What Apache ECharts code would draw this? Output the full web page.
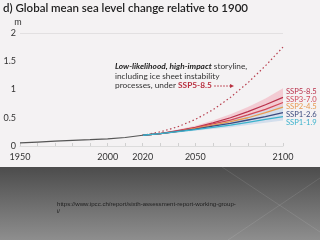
<!DOCTYPE html>
<html><head><meta charset="utf-8">
<script src="https://cdn.jsdelivr.net/npm/echarts@6/dist/echarts.min.js"></script>
<style>html,body{margin:0;padding:0;background:#5a5a5a}#c{width:320px;height:240px}</style>
</head><body><div id="c"></div>
<script>
const histYears = [1950,1960,1970,1980,1990,2000,2010,2020];
const histVals  = [0.055,0.07,0.085,0.10,0.112,0.125,0.15,0.19];
const projYears = [2020,2030,2040,2050,2060,2070,2080,2090,2100];
const ssp585 = [0.19,0.22,0.27,0.33,0.41,0.50,0.61,0.73,0.86];
const ssp370 = [0.19,0.22,0.265,0.32,0.39,0.46,0.55,0.65,0.77];
const ssp245 = [0.19,0.22,0.26,0.31,0.37,0.43,0.50,0.59,0.69];
const ssp126 = [0.19,0.22,0.26,0.30,0.35,0.40,0.46,0.52,0.59];
const ssp119 = [0.19,0.22,0.255,0.29,0.33,0.37,0.42,0.47,0.52];
const band585Lo = [0.19,0.21,0.25,0.30,0.36,0.43,0.51,0.60,0.70];
const band585Hi = [0.19,0.23,0.29,0.36,0.45,0.56,0.69,0.84,1.02];
const band126Lo = [0.19,0.21,0.24,0.27,0.30,0.33,0.37,0.41,0.45];
const band126Hi = [0.19,0.23,0.28,0.33,0.39,0.46,0.54,0.63,0.72];
const storyline = [0.19,0.25,0.34,0.47,0.64,0.86,1.12,1.42,1.75];
const xTickLabels = [1950,2000,2020,2050,2100];

const pairs = (xs, ys) => xs.map((x,i)=>[x,ys[i]]);

const chart = echarts.init(document.getElementById('c'), null, {renderer:'canvas'});
const lineS = (name, data, color, dy) => ({
  name, type:'line', data: pairs(projYears, data), symbol:'none', z:5,
  lineStyle:{color, width:1.3},
  endLabel:{show:true, formatter:name, color, fontFamily:'Lato', fontSize:7.6, offset:[0,dy], distance:3}
});
const band = (lo, hi, color) => ({
  type:'custom', z:2, silent:true,
  data: projYears.map((y,i)=>[y, lo[i], hi[i]]),
  renderItem: (params, api) => {
    if (params.dataIndex !== 0) return;
    const top = projYears.map((y,i)=>api.coord([y, hi[i]]));
    const bot = projYears.map((y,i)=>api.coord([y, lo[i]])).reverse();
    return {type:'polygon', shape:{points: top.concat(bot)}, style:{fill:color}};
  }
});

chart.setOption({
  animation:false,
  grid:{left:20, right:37, top:33, bottom:94, containLabel:false},
  graphic:[
    {type:'rect', z:-10, shape:{x:0,y:0,width:320,height:167}, style:{fill:'#f4f2f3'}},
    {type:'rect', z:-10, shape:{x:0,y:167,width:320,height:73}, style:{fill:new echarts.graphic.LinearGradient(0,0,0,1,[{offset:0,color:'#4c4c4c'},{offset:1,color:'#8e8e8e'}])}},
    {type:'line', z:-9, shape:{x1:222,y1:167,x2:320,y2:232}, style:{stroke:'rgba(255,255,255,0.10)', lineWidth:1}},
    {type:'line', z:-9, shape:{x1:320,y1:178,x2:228,y2:240}, style:{stroke:'rgba(255,255,255,0.10)', lineWidth:1}},
    {type:'text', left:3, top:2, style:{text:'d) Global mean sea level change relative to 1900', font:'600 11.5px Lato', fill:'#222'}},
    {type:'text', left:115, top:62, style:{
      text:'{bi|Low-likelihood, high-impact}{n| storyline,}\n{n|including ice sheet instability}\n{n|processes, under }{r|SSP5-8.5}',
      lineHeight:9.5,
      rich:{
        bi:{font:'italic bold 8.3px Lato', fill:'#222', lineHeight:9.5},
        n:{font:'8.3px Lato', fill:'#333', lineHeight:9.5},
        r:{font:'bold 8.3px Lato', fill:'#b8303f', lineHeight:9.5}
      }}},
    {type:'line', shape:{x1:214,y1:86,x2:230,y2:86}, style:{stroke:'#b8303f', lineWidth:0.8, lineDash:[2,1]}},
    {type:'polygon', shape:{points:[[230,84],[234,86],[230,88]]}, style:{fill:'#b8303f'}},
    {type:'text', left:57, top:201, style:{text:'https://www.ipcc.ch/report/sixth-assessment-report-working-group-\ni/', font:'6.1px "Liberation Sans"', fill:'#1e1e1e', lineHeight:7}}
  ],
  xAxis:{type:'value', min:1950, max:2100, interval:10,
    axisLine:{show:true, lineStyle:{color:'#dcdcdc', width:1}},
    axisTick:{show:true, length:3, inside:true, lineStyle:{color:'#d0d0d0'}},
    axisLabel:{customValues:xTickLabels, formatter:v=>String(v), fontFamily:'Lato', fontSize:9, color:'#333', margin:7},
    splitLine:{show:false}},
  yAxis:{type:'value', min:0, max:2, interval:0.5, name:'m', nameLocation:'end', nameGap:6,
    nameTextStyle:{fontFamily:'Lato', fontSize:9, color:'#333', align:'center', padding:[0,4,0,0]},
    axisLine:{show:false}, axisTick:{show:false},
    axisLabel:{fontFamily:'Lato', fontSize:9, color:'#333', margin:4},
    splitLine:{show:false}},
  series:[
    band(band585Lo, band585Hi, 'rgba(242,196,205,0.85)'),
    band(band126Lo, band126Hi, 'rgba(205,218,234,0.85)'),
    {type:'line', data: pairs(histYears, histVals), symbol:'none', lineStyle:{color:'#555', width:1.2}, z:6,
      markLine:{silent:true, symbol:'none', label:{show:false}, lineStyle:{color:'#e2e0e1', type:'solid', width:1}, data:[{yAxis:2}]}},
    {type:'line', data: pairs(projYears, storyline), symbol:'none', lineStyle:{color:'#b8404f', width:1.2, type:[1.5,2.5]}, z:4},
    lineS('SSP5-8.5', ssp585, '#b8304a', -6),
    lineS('SSP3-7.0', ssp370, '#d04a5a', -3),
    lineS('SSP2-4.5', ssp245, '#e89a50', 0),
    lineS('SSP1-2.6', ssp126, '#3c4a7e', 2),
    lineS('SSP1-1.9', ssp119, '#3ab2cc', 6)
  ]
});
</script></body></html>
